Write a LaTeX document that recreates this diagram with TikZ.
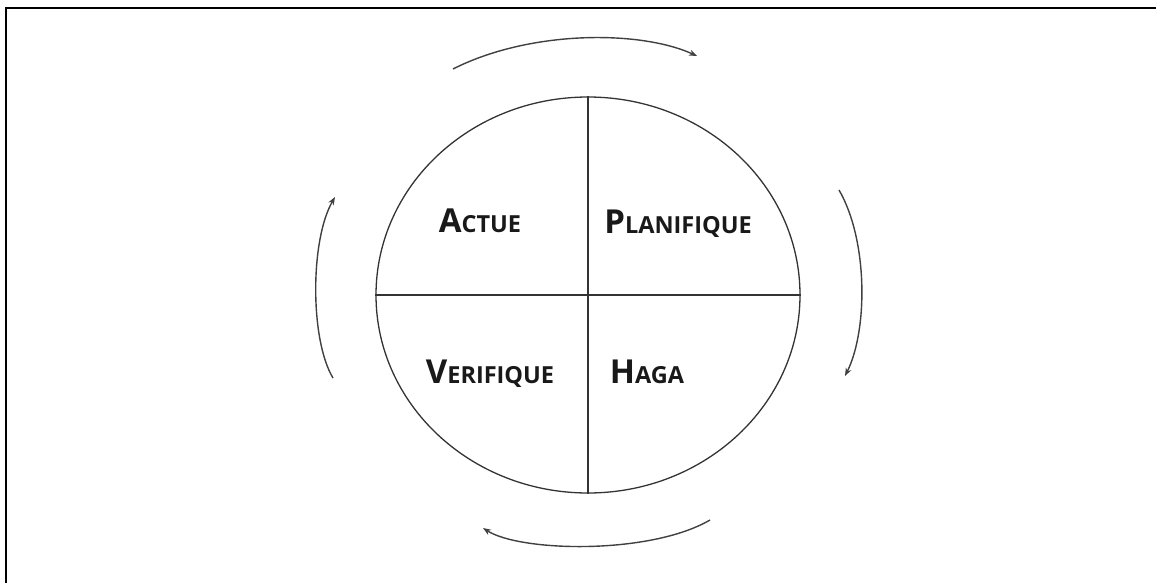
\documentclass[tikz,border=0pt]{standalone}
\usepackage{fontspec}
\setmainfont{Open Sans}
\usetikzlibrary{shapes.geometric,arrows.meta}
\newcommand\mysc[2]{{\fontsize{33}{33}\selectfont #1}{\fontsize{23.5}{23.5}\selectfont #2}}
\tikzset{
  label/.style={font=\bfseries, text=black!90, inner sep=0pt, anchor=base},
  cycarrow/.style={line width=1.4pt, draw=black!75, -{Stealth[length=8pt,width=6pt]}},
  divider/.style={line width=1.2pt, draw=black!80}
}
\begin{document}
\begin{tikzpicture}[x=1pt,y=-1pt]
\useasboundingbox (0,0) rectangle (1156,583);
\draw[line width=2pt] (6,583) -- (6,8) -- (1156,8);
\node[ellipse, draw=black!80, line width=1.3pt, minimum width=424pt, minimum height=396pt, inner sep=0pt] (c) at (588,295) {};
\draw[divider] (c.north) -- (c.south);
\draw[divider] (c.west) -- (c.east);
\node[label] (actue) at (480,232) {\mysc{A}{CTUE}};
\node[label] (plan) at (678,233) {\mysc{P}{LANIFIQUE}};
\node[label] (veri) at (490,383) {\mysc{V}{ERIFIQUE}};
\node[label] (haga) at (647,383) {\mysc{H}{AGA}};
\coordinate (t1) at (453,69); \coordinate (t2) at (697,56);
\coordinate (r1) at (839,190); \coordinate (r2) at (845,376);
\coordinate (b1) at (710,520); \coordinate (b2) at (483,528);
\coordinate (l1) at (333,378); \coordinate (l2) at (335,197);
\draw[cycarrow] (t1) .. controls (530,30) and (640,30) .. (t2);
\draw[cycarrow] (r1) .. controls (868,240) and (868,330) .. (r2);
\draw[cycarrow] (b1) .. controls (650,555) and (520,552) .. (b2);
\draw[cycarrow] (l1) .. controls (310,340) and (310,240) .. (l2);
\end{tikzpicture}
\end{document}
